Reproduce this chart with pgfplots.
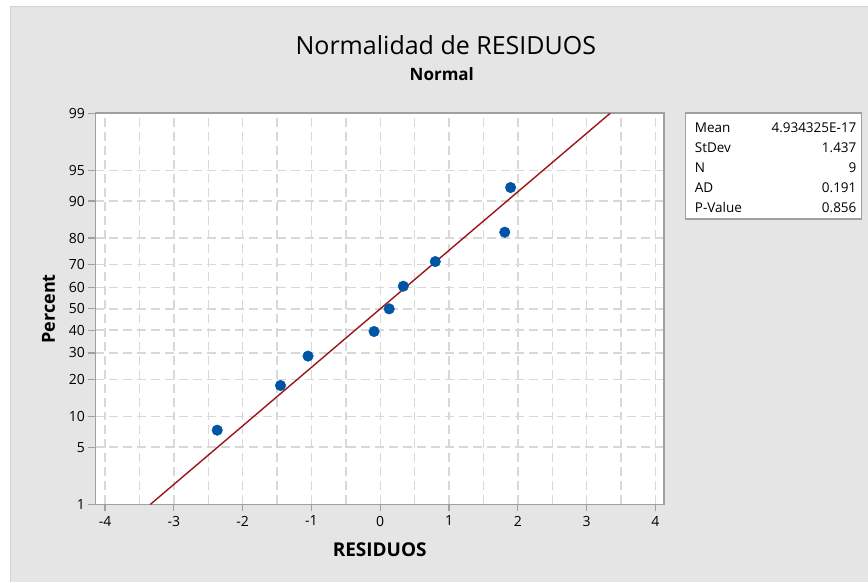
\documentclass[border=0pt]{standalone}
\usepackage{pgfplots}
\pgfplotsset{compat=1.18}
\usepackage{fontspec}
\setmainfont{Open Sans}

\definecolor{panelgray}{RGB}{229,229,229}
\definecolor{framegray}{RGB}{160,160,160}
\definecolor{gridgray}{RGB}{216,216,216}
\definecolor{fitred}{RGB}{155,22,28}
\definecolor{ptblue}{RGB}{0,84,166}

\begin{document}
\begin{tikzpicture}[x=1pt,y=1pt]
  % page and grey panel
  \fill[white] (0,0) rectangle (868,582);
  \fill[panelgray] (10,0) rectangle (868,576);
  \draw[gray!35, line width=0.8pt] (10,0) -- (10,576) -- (868,576);
  \coordinate (axisorigin) at (95.5,77.3);

  % titles
  \node[font=\fontsize{25}{28}\selectfont] at (446,537) {Normalidad de RESIDUOS};
  \node[font=\fontsize{17}{20}\selectfont\bfseries] at (442,508) {Normal};

  \begin{axis}[
    at={(axisorigin)}, anchor=south west,
    scale only axis, width=568.8pt, height=391.4pt,
    xmin=-4.14, xmax=4.125,
    ymin=-2.3263, ymax=2.3263,
    axis background/.style={fill=white},
    axis line style={draw=framegray, line width=1.6pt},
    xtick={-4,-3,...,4},
    minor xtick={-3.5,-2.5,...,3.5},
    ytick={-2.3263,-1.6449,-1.2816,-0.8416,-0.5244,-0.2533,0,0.2533,0.5244,0.8416,1.2816,1.6449,2.3263},
    yticklabels={1,5,10,20,30,40,50,60,70,80,90,95,99},
    tick align=outside,
    major tick length=7pt, minor tick length=0pt,
    every tick/.style={draw=framegray, line width=1.2pt},
    xtick pos=bottom, ytick pos=left,
    grid=both,
    major grid style={draw=gridgray, line width=1.4pt, dash pattern=on 9pt off 5pt},
    minor grid style={draw=gridgray, line width=1.4pt, dash pattern=on 9pt off 5pt},
    /pgf/number format/assume math mode=true,
    tick label style={font=\fontsize{14}{16}\selectfont},
    xticklabel style={yshift=-1pt},
    xlabel={RESIDUOS},
    ylabel={Percent},
    xlabel style={font=\fontsize{19}{22}\selectfont\bfseries, yshift=-10pt},
    ylabel style={font=\fontsize{18}{21}\selectfont\bfseries, yshift=7pt},
    clip=true,
  ]
    % fitted normal line: x = mean + StDev * z
    \addplot[no marks, color=fitred, line width=1.4pt]
      coordinates {(-3.343,-2.3263) (3.343,2.3263)};
    % residuals against normal scores of median ranks
    \addplot[only marks, mark=*, mark size=5.3pt, color=ptblue,
             mark options={fill=ptblue, draw=ptblue}]
      coordinates {
        (-2.370,-1.4430)
        (-1.450,-0.9116)
        (-1.050,-0.5622)
        (-0.090,-0.2692)
        ( 0.130, 0.0000)
        ( 0.335, 0.2692)
        ( 0.800, 0.5622)
        ( 1.810, 0.9116)
        ( 1.895, 1.4430)
      };
  \end{axis}

  % summary box
  \draw[framegray, fill=white, line width=1.4pt] (686,469) rectangle (862,363);
  \begin{scope}[every node/.style={font=\fontsize{13.5}{15}\selectfont, inner sep=0pt}]
    \node[anchor=west] at (695,454) {Mean};
    \node[anchor=west] at (695,434) {StDev};
    \node[anchor=west] at (695,414) {N};
    \node[anchor=west] at (695,394) {AD};
    \node[anchor=west] at (695,374) {P-Value};
    \node[anchor=east] at (857,454) {4.934325E-17};
    \node[anchor=east] at (857,434) {1.437};
    \node[anchor=east] at (857,414) {9};
    \node[anchor=east] at (857,394) {0.191};
    \node[anchor=east] at (857,374) {0.856};
  \end{scope}
\end{tikzpicture}
\end{document}
